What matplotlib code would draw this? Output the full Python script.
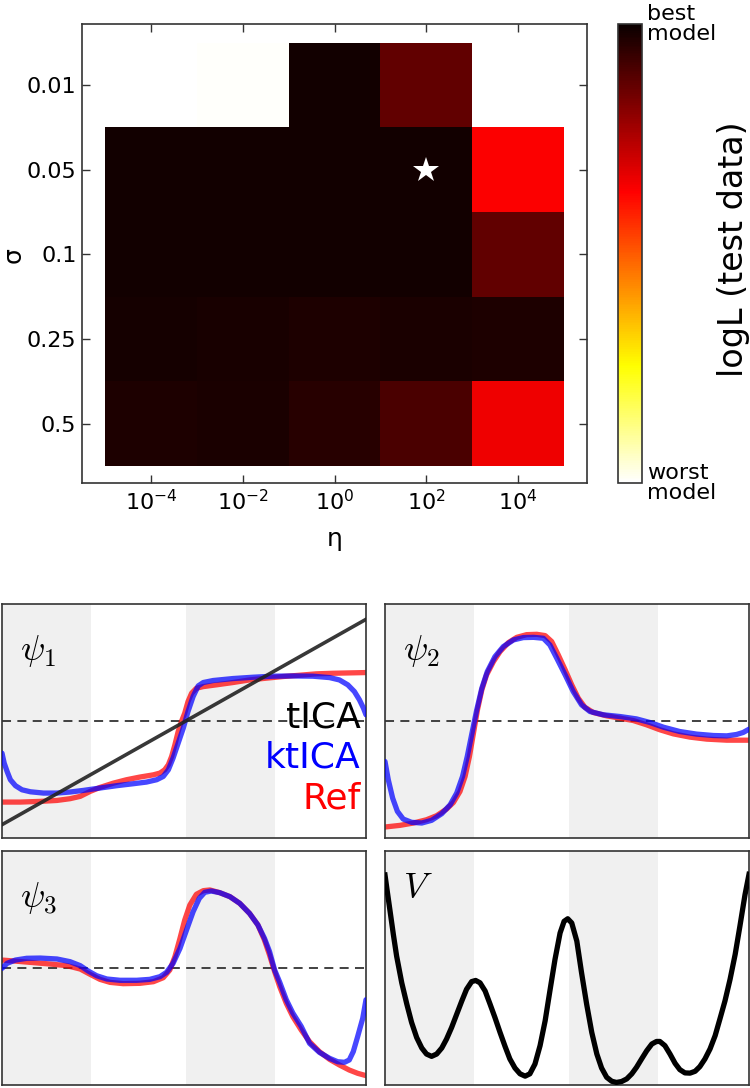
import numpy as np
import matplotlib
matplotlib.use('Agg')
import matplotlib.pyplot as plt
from matplotlib.colors import Normalize
from matplotlib.ticker import NullLocator
import matplotlib.cm as cm

# ---------------- heatmap data ----------------
eta_values = [1e-4, 1e-2, 1e0, 1e2, 1e4]
eta_ticklabels = [r'$10^{-4}$', r'$10^{-2}$', r'$10^{0}$', r'$10^{2}$', r'$10^{4}$']
sigma_labels = ['0.01', '0.05', '0.1', '0.25', '0.5']
# model score (1 = best model, 0 = worst model); nan = not computed
score_row_001 = [np.nan, 0.005, 0.986, 0.871, np.nan]
score_row_005 = [0.986, 0.986, 0.986, 0.988, 0.64]
score_row_01 = [0.986, 0.986, 0.986, 0.986, 0.871]
score_row_025 = [0.983, 0.977, 0.970, 0.974, 0.971]
score_row_05 = [0.971, 0.973, 0.954, 0.903, 0.659]
best_eta = 1e2
best_sigma = '0.05'

# ---------------- eigenfunction data (x in [0,1], psi in [-1,1], V in [0,1]) ----------------
band_edges = [(0.0, 0.245), (0.505, 0.75)]

psi1_tica_x = [0.0, 1.0]
psi1_tica_y = [-0.886, 0.869]
psi1_ref_x = [0.0, 0.050, 0.105, 0.151, 0.187, 0.215, 0.242, 0.269, 0.306, 0.342, 0.379, 0.416,
              0.434, 0.447, 0.457, 0.466, 0.475, 0.484, 0.493, 0.502, 0.511, 0.521, 0.534, 0.553,
              0.589, 0.635, 0.680, 0.726, 0.772, 0.817, 0.863, 0.909, 0.954, 1.0]
psi1_ref_y = [-0.693, -0.693, -0.687, -0.679, -0.664, -0.644, -0.602, -0.568, -0.531, -0.502,
              -0.479, -0.460, -0.445, -0.417, -0.374, -0.303, -0.203, -0.090, -0.004, 0.067,
              0.166, 0.238, 0.280, 0.294, 0.309, 0.329, 0.351, 0.366, 0.380, 0.391, 0.403,
              0.408, 0.411, 0.414]
psi1_kt_x = [0.0, 0.006, 0.014, 0.023, 0.037, 0.055, 0.078, 0.114, 0.151, 0.187, 0.224, 0.269,
             0.315, 0.361, 0.397, 0.425, 0.443, 0.457, 0.470, 0.484, 0.498, 0.511, 0.525, 0.539,
             0.553, 0.580, 0.635, 0.689, 0.744, 0.799, 0.854, 0.900, 0.927, 0.950, 0.968, 0.982,
             0.993, 1.0]
psi1_kt_y = [-0.275, -0.360, -0.431, -0.502, -0.553, -0.588, -0.605, -0.616, -0.616, -0.607,
             -0.593, -0.573, -0.553, -0.536, -0.522, -0.502, -0.474, -0.417, -0.317, -0.189,
             -0.061, 0.081, 0.209, 0.300, 0.329, 0.346, 0.363, 0.374, 0.383, 0.385, 0.383,
             0.371, 0.351, 0.309, 0.252, 0.181, 0.110, 0.053]

psi2_ref_x = [0.0, 0.041, 0.078, 0.114, 0.142, 0.169, 0.188, 0.206, 0.220, 0.232, 0.243, 0.254,
              0.266, 0.279, 0.298, 0.316, 0.339, 0.362, 0.389, 0.417, 0.440, 0.458, 0.476, 0.495,
              0.513, 0.531, 0.549, 0.572, 0.609, 0.646, 0.682, 0.719, 0.755, 0.792, 0.838, 0.884,
              0.939, 1.0]
psi2_ref_y = [-0.906, -0.892, -0.872, -0.844, -0.809, -0.753, -0.696, -0.602, -0.474, -0.303,
              -0.104, 0.095, 0.266, 0.394, 0.508, 0.593, 0.670, 0.715, 0.738, 0.741, 0.730,
              0.679, 0.565, 0.437, 0.309, 0.195, 0.118, 0.073, 0.044, 0.024, 0.004, -0.033,
              -0.075, -0.110, -0.138, -0.155, -0.164, -0.164]
psi2_kt_x = [0.0, 0.009, 0.021, 0.034, 0.050, 0.073, 0.101, 0.128, 0.156, 0.179, 0.197, 0.213,
             0.226, 0.238, 0.252, 0.266, 0.281, 0.302, 0.325, 0.353, 0.380, 0.408, 0.435, 0.453,
             0.472, 0.495, 0.517, 0.540, 0.563, 0.600, 0.646, 0.691, 0.728, 0.765, 0.810, 0.856,
             0.902, 0.939, 0.966, 0.984, 1.0]
psi2_kt_y = [-0.346, -0.502, -0.659, -0.772, -0.838, -0.866, -0.872, -0.849, -0.792, -0.716,
             -0.616, -0.474, -0.303, -0.118, 0.095, 0.280, 0.422, 0.550, 0.636, 0.693, 0.713,
             0.715, 0.707, 0.650, 0.536, 0.394, 0.252, 0.138, 0.081, 0.053, 0.038, 0.018,
             -0.013, -0.053, -0.090, -0.112, -0.124, -0.127, -0.115, -0.098, -0.070]

psi3_ref_x = [0.0, 0.032, 0.078, 0.132, 0.178, 0.215, 0.242, 0.269, 0.297, 0.333, 0.379, 0.416,
              0.443, 0.461, 0.475, 0.489, 0.502, 0.516, 0.534, 0.553, 0.571, 0.598, 0.626, 0.653,
              0.680, 0.703, 0.721, 0.735, 0.749, 0.763, 0.781, 0.799, 0.822, 0.845, 0.872, 0.900,
              0.927, 0.954, 0.977, 1.0]
psi3_ref_y = [0.068, 0.060, 0.048, 0.034, 0.020, -0.009, -0.054, -0.097, -0.123, -0.134, -0.131,
              -0.117, -0.083, -0.017, 0.097, 0.254, 0.410, 0.538, 0.630, 0.661, 0.667, 0.644,
              0.610, 0.553, 0.467, 0.368, 0.239, 0.111, -0.031, -0.160, -0.302, -0.416, -0.530,
              -0.630, -0.715, -0.781, -0.829, -0.872, -0.900, -0.920]
psi3_kt_x = [0.0, 0.014, 0.037, 0.068, 0.105, 0.151, 0.187, 0.215, 0.237, 0.260, 0.288, 0.324,
             0.370, 0.406, 0.434, 0.452, 0.470, 0.489, 0.507, 0.525, 0.542, 0.557, 0.575, 0.598,
             0.626, 0.653, 0.680, 0.703, 0.721, 0.735, 0.749, 0.763, 0.781, 0.799, 0.822, 0.845,
             0.872, 0.900, 0.922, 0.941, 0.954, 0.965, 0.977, 0.991, 1.0]
psi3_kt_y = [-0.003, 0.040, 0.068, 0.083, 0.085, 0.077, 0.054, 0.020, -0.026, -0.066, -0.094,
             -0.105, -0.105, -0.097, -0.074, -0.037, 0.040, 0.168, 0.325, 0.481, 0.595, 0.647,
             0.658, 0.644, 0.610, 0.553, 0.467, 0.368, 0.254, 0.140, -0.017, -0.122, -0.271,
             -0.385, -0.499, -0.644, -0.721, -0.772, -0.801, -0.806, -0.786, -0.715, -0.587,
             -0.430, -0.271]

v_x = [0.000, 0.005, 0.014, 0.023, 0.032, 0.046, 0.060, 0.073, 0.087, 0.101, 0.114, 0.128, 0.142,
       0.156, 0.169, 0.183, 0.197, 0.211, 0.224, 0.238, 0.249, 0.261, 0.275, 0.288, 0.302, 0.316,
       0.330, 0.343, 0.357, 0.371, 0.385, 0.398, 0.412, 0.426, 0.440, 0.453, 0.467, 0.481, 0.492,
       0.502, 0.513, 0.527, 0.540, 0.554, 0.568, 0.582, 0.595, 0.609, 0.623, 0.636, 0.650, 0.664,
       0.678, 0.691, 0.705, 0.719, 0.733, 0.746, 0.755, 0.769, 0.783, 0.797, 0.810, 0.824, 0.838,
       0.852, 0.865, 0.879, 0.893, 0.907, 0.920, 0.934, 0.948, 0.962, 0.975, 0.989, 1.000]
v_y = [0.897, 0.840, 0.741, 0.641, 0.548, 0.434, 0.342, 0.264, 0.199, 0.154, 0.128, 0.118, 0.128,
       0.154, 0.192, 0.242, 0.299, 0.356, 0.406, 0.439, 0.444, 0.434, 0.399, 0.345, 0.285, 0.221,
       0.160, 0.107, 0.068, 0.043, 0.033, 0.043, 0.085, 0.164, 0.271, 0.399, 0.534, 0.648, 0.698,
       0.709, 0.691, 0.613, 0.477, 0.342, 0.221, 0.128, 0.068, 0.028, 0.011, 0.006, 0.010, 0.021,
       0.043, 0.071, 0.107, 0.142, 0.171, 0.182, 0.182, 0.164, 0.128, 0.088, 0.061, 0.047, 0.046,
       0.054, 0.074, 0.107, 0.150, 0.207, 0.278, 0.356, 0.449, 0.556, 0.677, 0.812, 0.900]

# ---------------- figure ----------------
W, H = 750, 1088
fig = plt.figure(figsize=(W / 100, H / 100), dpi=100)
FRAME = '#333333'


def px_axes(x0, y0, x1, y1):
    return fig.add_axes([x0 / W, 1 - y1 / H, (x1 - x0) / W, (y1 - y0) / H])


# heatmap
ax = px_axes(82, 24, 587, 483)
score = np.ma.masked_invalid(np.array([score_row_001, score_row_005, score_row_01,
                                       score_row_025, score_row_05]))
eta = np.array(eta_values)
x_edges = np.concatenate([eta / 10.0, [eta[-1] * 10.0]])
y_edges = np.arange(len(sigma_labels) + 1) - 0.5
cmap = plt.get_cmap('hot_r')
norm = Normalize(0, 1)
ax.pcolormesh(x_edges, y_edges, score, cmap=cmap, norm=norm, shading='flat')
ax.plot([best_eta], [sigma_labels.index(best_sigma)], marker='*', color='white',
        markersize=19, markeredgewidth=0, linestyle='none')
ax.set_xscale('log')
ax.set_xlim(10 ** -5.5, 10 ** 5.5)
ax.set_ylim(4.7, -0.72)
ax.set_xticks(eta_values)
ax.set_xticklabels(eta_ticklabels)
ax.xaxis.set_minor_locator(NullLocator())
ax.set_yticks(range(len(sigma_labels)))
ax.set_yticklabels(sigma_labels)
ax.tick_params(direction='in', top=True, right=True, length=6, width=1,
               color=FRAME, labelsize=16, pad=4)
for s in ax.spines.values():
    s.set_color(FRAME)
    s.set_linewidth(1.2)
ax.set_xlabel('η', fontsize=18)
ax.xaxis.set_label_coords(0.5, -0.095)
ax.set_ylabel('σ', fontsize=18)
ax.yaxis.set_label_coords(-0.112, 0.497)

# colorbar
cax = px_axes(618, 24, 642, 483)
cb = fig.colorbar(cm.ScalarMappable(norm=norm, cmap=cmap), cax=cax)
cb.set_ticks([])
cb.outline.set_edgecolor(FRAME)
cb.outline.set_linewidth(1.2)
cax.text(1.2, 1.0, 'best\nmodel', transform=cax.transAxes, ha='left', va='center',
         fontsize=16, linespacing=1.05)
cax.text(1.2, 0.0, 'worst\nmodel', transform=cax.transAxes, ha='left', va='center',
         fontsize=16, linespacing=1.05)
cax.text(4.8, 0.51, 'logL (test data)', transform=cax.transAxes, ha='center', va='center',
         rotation=90, fontsize=24)

# bottom panels
panels = [px_axes(2, 604, 366, 838), px_axes(385, 604, 749, 838),
          px_axes(2, 851, 366, 1085), px_axes(385, 851, 749, 1085)]
RED = (1.0, 0.0, 0.0, 0.72)
BLUE = (0.0, 0.0, 1.0, 0.72)
for i, p in enumerate(panels):
    for a, b in band_edges:
        p.axvspan(a, b, color='#f0f0f0', lw=0, zorder=0)
    p.set_xlim(0, 1)
    if i < 3:
        p.set_ylim(-1, 1)
        p.axhline(0, color='#333333', lw=1.3, linestyle=(0, (5, 3.5)), zorder=1)
    else:
        p.set_ylim(-0.005, 1.0)
    p.set_xticks([])
    p.set_yticks([])
    for s in p.spines.values():
        s.set_color(FRAME)
        s.set_linewidth(1.2)

p1, p2, p3, p4 = panels
kw = dict(lw=3.8, solid_capstyle='round', solid_joinstyle='round')
p1.plot(psi1_tica_x, psi1_tica_y, color='#222222', lw=2.6, alpha=0.9, zorder=4)
p1.plot(psi1_ref_x, psi1_ref_y, color=RED, zorder=2, **kw)
p1.plot(psi1_kt_x, psi1_kt_y, color=BLUE, zorder=3, **kw)
p2.plot(psi2_ref_x, psi2_ref_y, color=RED, zorder=2, **kw)
p2.plot(psi2_kt_x, psi2_kt_y, color=BLUE, zorder=3, **kw)
p3.plot(psi3_ref_x, psi3_ref_y, color=RED, zorder=2, **kw)
p3.plot(psi3_kt_x, psi3_kt_y, color=BLUE, zorder=3, **kw)
p4.plot(v_x, v_y, color='black', lw=3.8, zorder=3, solid_joinstyle='round')

p1.text(0.985, 0.474, 'tICA', transform=p1.transAxes, ha='right', va='baseline',
        fontsize=26, color='black', zorder=5)
p1.text(0.985, 0.303, 'ktICA', transform=p1.transAxes, ha='right', va='baseline',
        fontsize=26, color='blue', zorder=5)
p1.text(0.985, 0.128, 'Ref', transform=p1.transAxes, ha='right', va='baseline',
        fontsize=26, color='red', zorder=5)

for p, lab in zip(panels, [r'$\psi_1$', r'$\psi_2$', r'$\psi_3$', r'$V$']):
    p.text(0.05, 0.80 if lab != r'$V$' else 0.84, lab, transform=p.transAxes,
           ha='left', va='center', fontsize=26, math_fontfamily='cm', zorder=5)

fig.savefig('out.png', dpi=100)
